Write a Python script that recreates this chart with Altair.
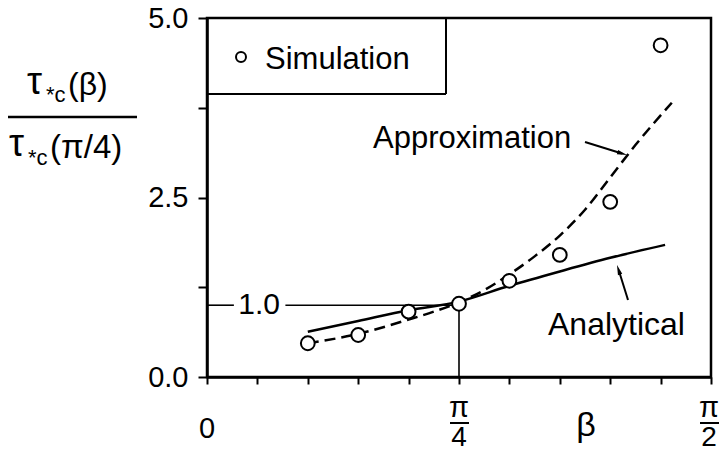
import altair as alt
import pandas as pd

FONT = "Liberation Sans"

# plot-area geometry (pixels)
L, T, W, H = 207, 18, 504, 359

# simulation points: beta in degrees, ratio tau*c(beta)/tau*c(pi/4)
beta_sim = [18, 27, 36, 45, 54, 63, 72, 81]
ratio_sim = [0.47, 0.585, 0.91, 1.02, 1.34, 1.70, 2.44, 4.62]

# approximation curve (dashed)
beta_approx = [18, 27, 36, 40.5, 45, 49.5, 54, 58.5, 63, 67.5, 72, 76.5, 83]
ratio_approx = [0.47, 0.60, 0.80, 0.91, 1.04, 1.21, 1.43, 1.68, 1.97, 2.33, 2.78, 3.23, 3.82]

# analytical curve (solid)
beta_analytic = [18, 27, 36, 45, 54, 63, 72, 81.8]
ratio_analytic = [0.63, 0.78, 0.93, 1.05, 1.27, 1.47, 1.66, 1.84]

x_ticks = [0, 9, 18, 27, 36, 45, 54, 63, 72, 81, 90]
y_ticks = [0, 1.25, 2.5, 3.75, 5]

sim = pd.DataFrame({"beta": beta_sim, "ratio": ratio_sim})
approx = pd.DataFrame({"beta": beta_approx, "ratio": ratio_approx})
analytic = pd.DataFrame({"beta": beta_analytic, "ratio": ratio_analytic})

xs = alt.Scale(domain=[0, 90], nice=False, zero=False)
ys = alt.Scale(domain=[0, 5], nice=False, zero=False)

x_axis = alt.Axis(values=x_ticks, labels=False, tickSize=7, tickWidth=2,
                  domainWidth=2.5, domainColor="black", tickColor="black",
                  grid=False, title=None)
y_axis = alt.Axis(values=y_ticks, tickSize=9, tickWidth=2, domainWidth=2.5,
                  domainColor="black", tickColor="black", grid=False, title=None,
                  labelExpr="datum.value % 2.5 == 0 ? format(datum.value, '.1f') : ''",
                  labelFont=FONT, labelFontSize=29, labelColor="black",
                  labelPadding=10)

one = alt.Data(values=[{}])


def px_text(txt, px, py, size, align="left", baseline="alphabetic"):
    return alt.Chart(one).mark_text(
        text=txt, font=FONT, fontSize=size, align=align, baseline=baseline,
        color="black"
    ).encode(x=alt.value(px - L), y=alt.value(py - T))


def px_rule(x1, y1, x2, y2, w=2):
    return alt.Chart(one).mark_rule(color="black", strokeWidth=w).encode(
        x=alt.value(x1 - L), y=alt.value(y1 - T),
        x2=alt.value(x2 - L), y2=alt.value(y2 - T))


def px_head(px, py, angle):
    return alt.Chart(one).mark_point(
        shape="M0,0L-0.45,2L0.45,2Z", filled=True, fill="black", stroke=None,
        size=100, angle=angle, opacity=1
    ).encode(x=alt.value(px - L), y=alt.value(py - T))


base = alt.Chart(sim).mark_point(opacity=0).encode(
    x=alt.X("beta:Q", scale=xs, axis=x_axis),
    y=alt.Y("ratio:Q", scale=ys, axis=y_axis),
)

analytic_line = alt.Chart(analytic).mark_line(
    color="black", strokeWidth=2.5, interpolate="monotone"
).encode(x="beta:Q", y="ratio:Q")

approx_line = alt.Chart(approx).mark_line(
    color="black", strokeWidth=2.5, strokeDash=[11, 6], interpolate="monotone"
).encode(x="beta:Q", y="ratio:Q")

# reference lines at beta = pi/4 and ratio = 1.0
v_ref = alt.Chart(one).mark_rule(color="black", strokeWidth=1.6).encode(
    x=alt.datum(45), y=alt.datum(0), y2=alt.datum(1.0))
h_ref1 = alt.Chart(one).mark_rule(color="black", strokeWidth=1.6).encode(
    x=alt.datum(0), x2=alt.datum(4.8), y=alt.datum(1.0))
h_ref2 = alt.Chart(one).mark_rule(color="black", strokeWidth=1.6).encode(
    x=alt.datum(14), x2=alt.datum(45), y=alt.datum(1.0))
one_label = alt.Chart(one).mark_text(
    text="1.0", font=FONT, fontSize=30, align="center", baseline="middle",
    color="black"
).encode(x=alt.datum(9.3), y=alt.datum(1.0))

points = alt.Chart(sim).mark_point(
    shape="circle", size=190, filled=True, fill="white", stroke="black",
    strokeWidth=2, opacity=1
).encode(x="beta:Q", y="ratio:Q")

# legend box
legend = [
    px_rule(L, 94, 446, 94),
    px_rule(446, T, 446, 94),
    alt.Chart(one).mark_point(shape="circle", size=100, filled=True, fill="white",
                              stroke="black", strokeWidth=2, opacity=1
                              ).encode(x=alt.value(241 - L), y=alt.value(57 - T)),
    px_text("Simulation", 265, 69, 31),
]

# curve annotations with arrows
notes = [
    px_text("Approximation", 373, 148, 31),
    px_rule(585, 142, 622, 153.5),
    px_head(627, 155, 107),
    px_text("Analytical", 548, 335, 32),
    px_rule(628, 300, 619, 271),
    px_head(617, 265, 342),
]

# x tick labels: 0, pi/4, pi/2 and axis symbol beta
xlabels = [
    px_text("0", 207, 438, 29, align="center"),
    px_text("π", 459, 417, 29, align="center"),
    px_rule(450, 423, 469, 423, 2),
    px_text("4", 459, 446, 28, align="center"),
    px_text("π", 709, 417, 29, align="center"),
    px_rule(700, 423, 719, 423, 2),
    px_text("2", 709, 446, 28, align="center"),
    px_text("β", 586, 436, 34, align="center"),
]

# y-axis title as a stacked fraction
ytitle = [
    px_text("τ", 27, 94, 38),
    px_text("*c", 46, 102, 22),
    px_text("(β)", 68, 95, 32),
    px_rule(8, 117, 137, 117, 2.5),
    px_text("τ", 9, 156, 38),
    px_text("*c", 28, 165, 22),
    px_text("(π/4)", 50, 158, 33),
]

chart = alt.layer(
    base, v_ref, h_ref1, h_ref2, one_label, analytic_line, approx_line, points,
    *legend, *notes, *xlabels, *ytitle
).properties(
    width=W, height=H,
    autosize=alt.AutoSizeParams(type="none"),
    padding={"left": L, "top": T, "right": 723 - L - W, "bottom": 452 - T - H},
    background="white",
).configure_view(
    stroke="black", strokeWidth=2.5
)

chart.save("out.html", embed_options={"renderer": "svg", "actions": False})
